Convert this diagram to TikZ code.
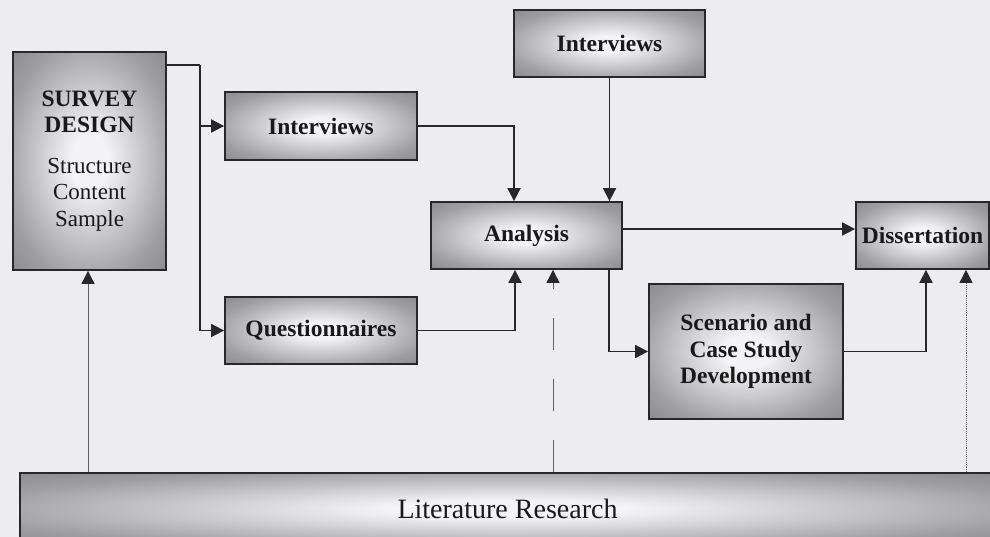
\documentclass[tikz,border=0pt]{standalone}
\usepackage{fontspec}
\setmainfont{Liberation Serif}
\usetikzlibrary{arrows.meta}

\definecolor{paper}{RGB}{237,237,240}
\definecolor{boxedge}{RGB}{118,118,120}
\definecolor{boxmid}{RGB}{158,158,160}
\definecolor{boxlight}{RGB}{244,244,246}
\definecolor{ink}{RGB}{40,40,42}
\definecolor{guide}{RGB}{95,95,100}

% soft grey box fill, bright in the middle and darker toward the border
\pgfdeclareradialshading{glow}{\pgfpoint{0bp}{0bp}}{%
  color(0bp)=(boxlight); color(6bp)=(boxlight); color(28bp)=(boxmid);
  color(46bp)=(boxedge); color(75bp)=(boxedge)}

\newcommand{\plainline}{\mdseries\fontsize{23}{27}\selectfont}

\tikzset{
  block/.style={draw=ink, line width=1.8pt, shading=glow, inner sep=0pt,
    align=center, font=\fontsize{23.5}{26.5}\selectfont\bfseries, text=black!90},
  conn/.style={draw=ink, line width=1.8pt},
  arr/.style={conn, -{Triangle[length=13pt,width=13pt]}},
  feed/.style={draw=guide, line width=0.9pt,
    -{Triangle[length=13pt,width=13pt,color=ink]}},
}

\begin{document}
\begin{tikzpicture}[x=1pt,y=-1pt]
  \fill[paper] (0,0) rectangle (990,537);
  \useasboundingbox (0,0) rectangle (990,537);

  % boxes
  \node[block, minimum width=153pt, minimum height=218pt] (survey) at (89.5,161)
    {SURVEY\\DESIGN\\[14pt]\plainline Structure\\\plainline Content\\\plainline Sample};
  \node[block, minimum width=192pt, minimum height=68pt] (intL) at (321,126) {Interviews};
  \node[block, minimum width=192pt, minimum height=67pt] (quest) at (321,330.5) {Questionnaires};
  \node[block, minimum width=191pt, minimum height=67pt] (intT) at (609.5,43.5) {Interviews};
  \node[block, minimum width=191pt, minimum height=67pt] (analysis) at (526.5,235.5) {Analysis};
  \node[block, minimum width=133pt, minimum height=67pt] (diss) at (922.5,235.5) {Dissertation};
  \node[block, minimum width=194pt, minimum height=135pt] (scen) at (746,351.5)
    {Scenario and\\Case Study\\Development};
  \node[block, minimum width=975pt, minimum height=72pt, font=\fontsize{28}{30}\selectfont]
    (lit) at (507.5,509) {Literature Research};

  % survey design feeds interviews and questionnaires
  \draw[conn] ([yshift=-14pt]survey.north east) -- ++(33,0) coordinate (split);
  \draw[arr] (split) |- (intL.west);
  \draw[arr] (split) |- (quest.west);

  % collected data into analysis
  \draw[arr] (intL.east) -| ([xshift=-12.5pt]analysis.north);
  \draw[arr] (intT.south) -- (intT.south |- analysis.north);
  \draw[arr] (quest.east) -| ([xshift=-11.5pt]analysis.south);

  % analysis onward
  \draw[arr] ([yshift=6.5pt]analysis.east) -- ([yshift=6.5pt]analysis.east -| diss.west);
  \draw[arr] ([xshift=82.5pt]analysis.south) |- (scen.west);
  \draw[arr] (scen.east) -| ([xshift=3.5pt]diss.south);

  % literature research supports every stage
  \draw[feed] ([xshift=-1.5pt]survey.south |- lit.north) -- ([xshift=-1.5pt]survey.south);
  \draw[feed, dash pattern=on 32pt off 29pt]
    ([xshift=26.5pt]analysis.south |- lit.north) -- ([xshift=26.5pt]analysis.south);
  \draw[feed, densely dotted] ([xshift=43.5pt]diss.south |- lit.north) -- ([xshift=43.5pt]diss.south);
\end{tikzpicture}
\end{document}
